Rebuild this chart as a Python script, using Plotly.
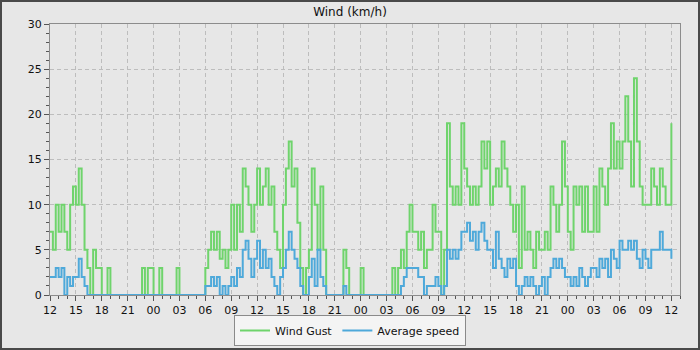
import pandas as pd
import plotly.graph_objects as go

# Sampling grid: one reading every 20 minutes, starting 12:00 on day 1
start_time = "2024-05-10 12:00"
step = "20min"

# Wind gust (km/h), 9 readings per 3-hour row
gust_day1 = [
    7, 5, 10, 7, 10, 7, 5, 10, 12,     # 12-15
    10, 14, 10, 5, 3, 0, 5, 3, 3,      # 15-18
    0, 0, 3, 0, 0, 0, 0, 0, 0,         # 18-21
    0, 0, 0, 0, 0, 3, 0, 3, 3,         # 21-24
]
gust_day2 = [
    0, 0, 3, 0, 0, 0, 0, 0, 3,         # 00-03
    0, 0, 0, 0, 0, 0, 0, 0, 0,         # 03-06
    3, 5, 7, 5, 7, 4, 5, 3, 5,         # 06-09
    10, 5, 10, 7, 14, 12, 10, 7, 10,   # 09-12
    14, 10, 12, 14, 10, 12, 7, 5, 3,   # 12-15
    10, 14, 17, 12, 14, 8, 3, 0, 3,    # 15-18
    5, 14, 10, 5, 12, 5, 0, 0, 0,      # 18-21
    0, 0, 0, 5, 3, 0, 0, 0, 0,         # 21-24
]
gust_day3 = [
    3, 0, 0, 0, 0, 0, 0, 0, 0,         # 00-03
    0, 0, 3, 0, 3, 5, 3, 7, 10,        # 03-06
    7, 7, 5, 7, 3, 5, 5, 10, 7,        # 06-09
    7, 0, 5, 19, 12, 10, 12, 10, 19,   # 09-12
    14, 12, 10, 12, 10, 12, 17, 14, 17,  # 12-15
    10, 12, 14, 12, 17, 14, 12, 10, 7,   # 15-18
    10, 3, 12, 5, 7, 5, 3, 7, 5,       # 18-21
    5, 7, 5, 12, 10, 7, 10, 17, 12,    # 21-24
]
gust_day4 = [
    7, 5, 12, 10, 12, 7, 12, 7, 7,     # 00-03
    12, 7, 14, 12, 10, 14, 19, 14, 17, # 03-06
    14, 17, 22, 17, 12, 24, 17, 12, 10,  # 06-09
    10, 10, 14, 12, 10, 14, 12, 10, 10,  # 09-12
    19,                                # 12:00
]

# Average speed (km/h)
avg_day1 = [
    2, 2, 3, 2, 3, 0, 2, 1, 2,
    2, 4, 2, 1, 0, 0, 0, 0, 0,
    0, 0, 0, 0, 0, 0, 0, 0, 0,
    0, 0, 0, 0, 0, 0, 0, 0, 0,
]
avg_day2 = [
    0, 0, 0, 0, 0, 0, 0, 0, 0,
    0, 0, 0, 0, 0, 0, 0, 0, 0,
    1, 1, 2, 1, 2, 0, 1, 0, 1,
    2, 1, 3, 2, 5, 6, 4, 2, 4,
    6, 3, 5, 3, 4, 2, 1, 0, 2,
    3, 5, 7, 5, 4, 3, 1, 0, 0,
    2, 4, 1, 5, 2, 1, 0, 0, 0,
    0, 0, 0, 1, 0, 0, 0, 0, 0,
]
avg_day3 = [
    0, 0, 0, 0, 0, 0, 0, 0, 0,
    0, 0, 0, 0, 0, 1, 2, 3, 3,
    3, 3, 2, 2, 0, 1, 1, 1, 2,
    1, 0, 1, 5, 4, 5, 4, 5, 7,
    7, 8, 6, 7, 5, 7, 8, 6, 5,
    5, 3, 7, 4, 3, 2, 4, 3, 4,
    1, 0, 1, 2, 1, 2, 1, 0, 1,
    2, 0, 2, 3, 4, 3, 4, 3, 2,
]
avg_day4 = [
    2, 1, 2, 1, 3, 2, 1, 2, 3,
    3, 2, 4, 3, 4, 2, 5, 4, 3,
    6, 5, 5, 6, 5, 6, 4, 3, 5,
    4, 3, 5, 5, 5, 7, 5, 5, 5,
    4,
]

y_ticks = [0, 5, 10, 15, 20, 25, 30]

gust = gust_day1 + gust_day2 + gust_day3 + gust_day4
avg = avg_day1 + avg_day2 + avg_day3 + avg_day4
times = pd.date_range(start=start_time, periods=len(gust), freq=step)

t0 = pd.Timestamp(start_time)
x_end = t0 + pd.Timedelta(hours=73)

fig = go.Figure()
fig.add_trace(go.Scatter(
    x=times, y=gust, name="Wind Gust", mode="lines",
    line=dict(color="#6fd46c", width=2, shape="hv"),
))
fig.add_trace(go.Scatter(
    x=times, y=avg, name="Average speed", mode="lines",
    line=dict(color="#4ea9da", width=2, shape="hv"),
))

W, H = 700, 350
ml, mr, mt, mb = 50, 20, 24, 55
pw, ph = W - ml - mr, H - mt - mb

font = "DejaVu Sans"

fig.update_layout(
    width=W, height=H,
    margin=dict(l=ml, r=mr, t=mt, b=mb, autoexpand=False),
    paper_bgcolor="#e7e7e7",
    plot_bgcolor="#e7e7e7",
    font=dict(family=font, size=11, color="#111"),
    title=dict(text="Wind (km/h)", x=0.5, xref="container", xanchor="center",
               y=1 - 12 / H, yref="container", yanchor="middle",
               font=dict(family=font, size=12, color="#111")),
    showlegend=True,
    legend=dict(orientation="h", x=(W / 2 - ml) / pw, xanchor="center",
                y=-(346 - (mt + ph)) / ph, yanchor="bottom",
                bgcolor="#f4f4f4", bordercolor="#8a8a8a", borderwidth=1,
                font=dict(family=font, size=11, color="#111"),
                itemwidth=30, tracegroupgap=0),
    xaxis=dict(
        type="date", range=[t0, x_end],
        tickformat="%H", tick0=t0, dtick=3 * 3600 * 1000,
        ticks="outside", ticklen=5, tickcolor="#555", tickwidth=1,
        showline=True, linecolor="#8c8c8c", linewidth=1, mirror=True,
        showgrid=True, gridcolor="#bdbdbd", griddash="4px,3px", gridwidth=1,
        minor=dict(dtick=3600 * 1000, tick0=t0, ticks="outside", ticklen=3,
                   tickcolor="#555", showgrid=False),
        tickfont=dict(family=font, size=11, color="#111"),
        zeroline=False, fixedrange=True,
    ),
    yaxis=dict(
        range=[0, 30], tickvals=y_ticks,
        ticks="outside", ticklen=5, tickcolor="#555", tickwidth=1,
        showline=True, linecolor="#8c8c8c", linewidth=1, mirror=True,
        showgrid=True, gridcolor="#bdbdbd", griddash="4px,3px", gridwidth=1,
        minor=dict(dtick=1, ticks="outside", ticklen=3, tickcolor="#555", showgrid=False),
        tickfont=dict(family=font, size=11, color="#111"),
        zeroline=False, fixedrange=True,
    ),
)

# Outer dark frame around the whole image
fig.add_shape(type="rect", xref="paper", yref="paper",
              x0=-ml / pw, x1=1 + mr / pw, y0=-mb / ph, y1=1 + mt / ph,
              line=dict(color="#4a4a4a", width=4), fillcolor="rgba(0,0,0,0)",
              layer="above")

fig.write_html("out.html")
